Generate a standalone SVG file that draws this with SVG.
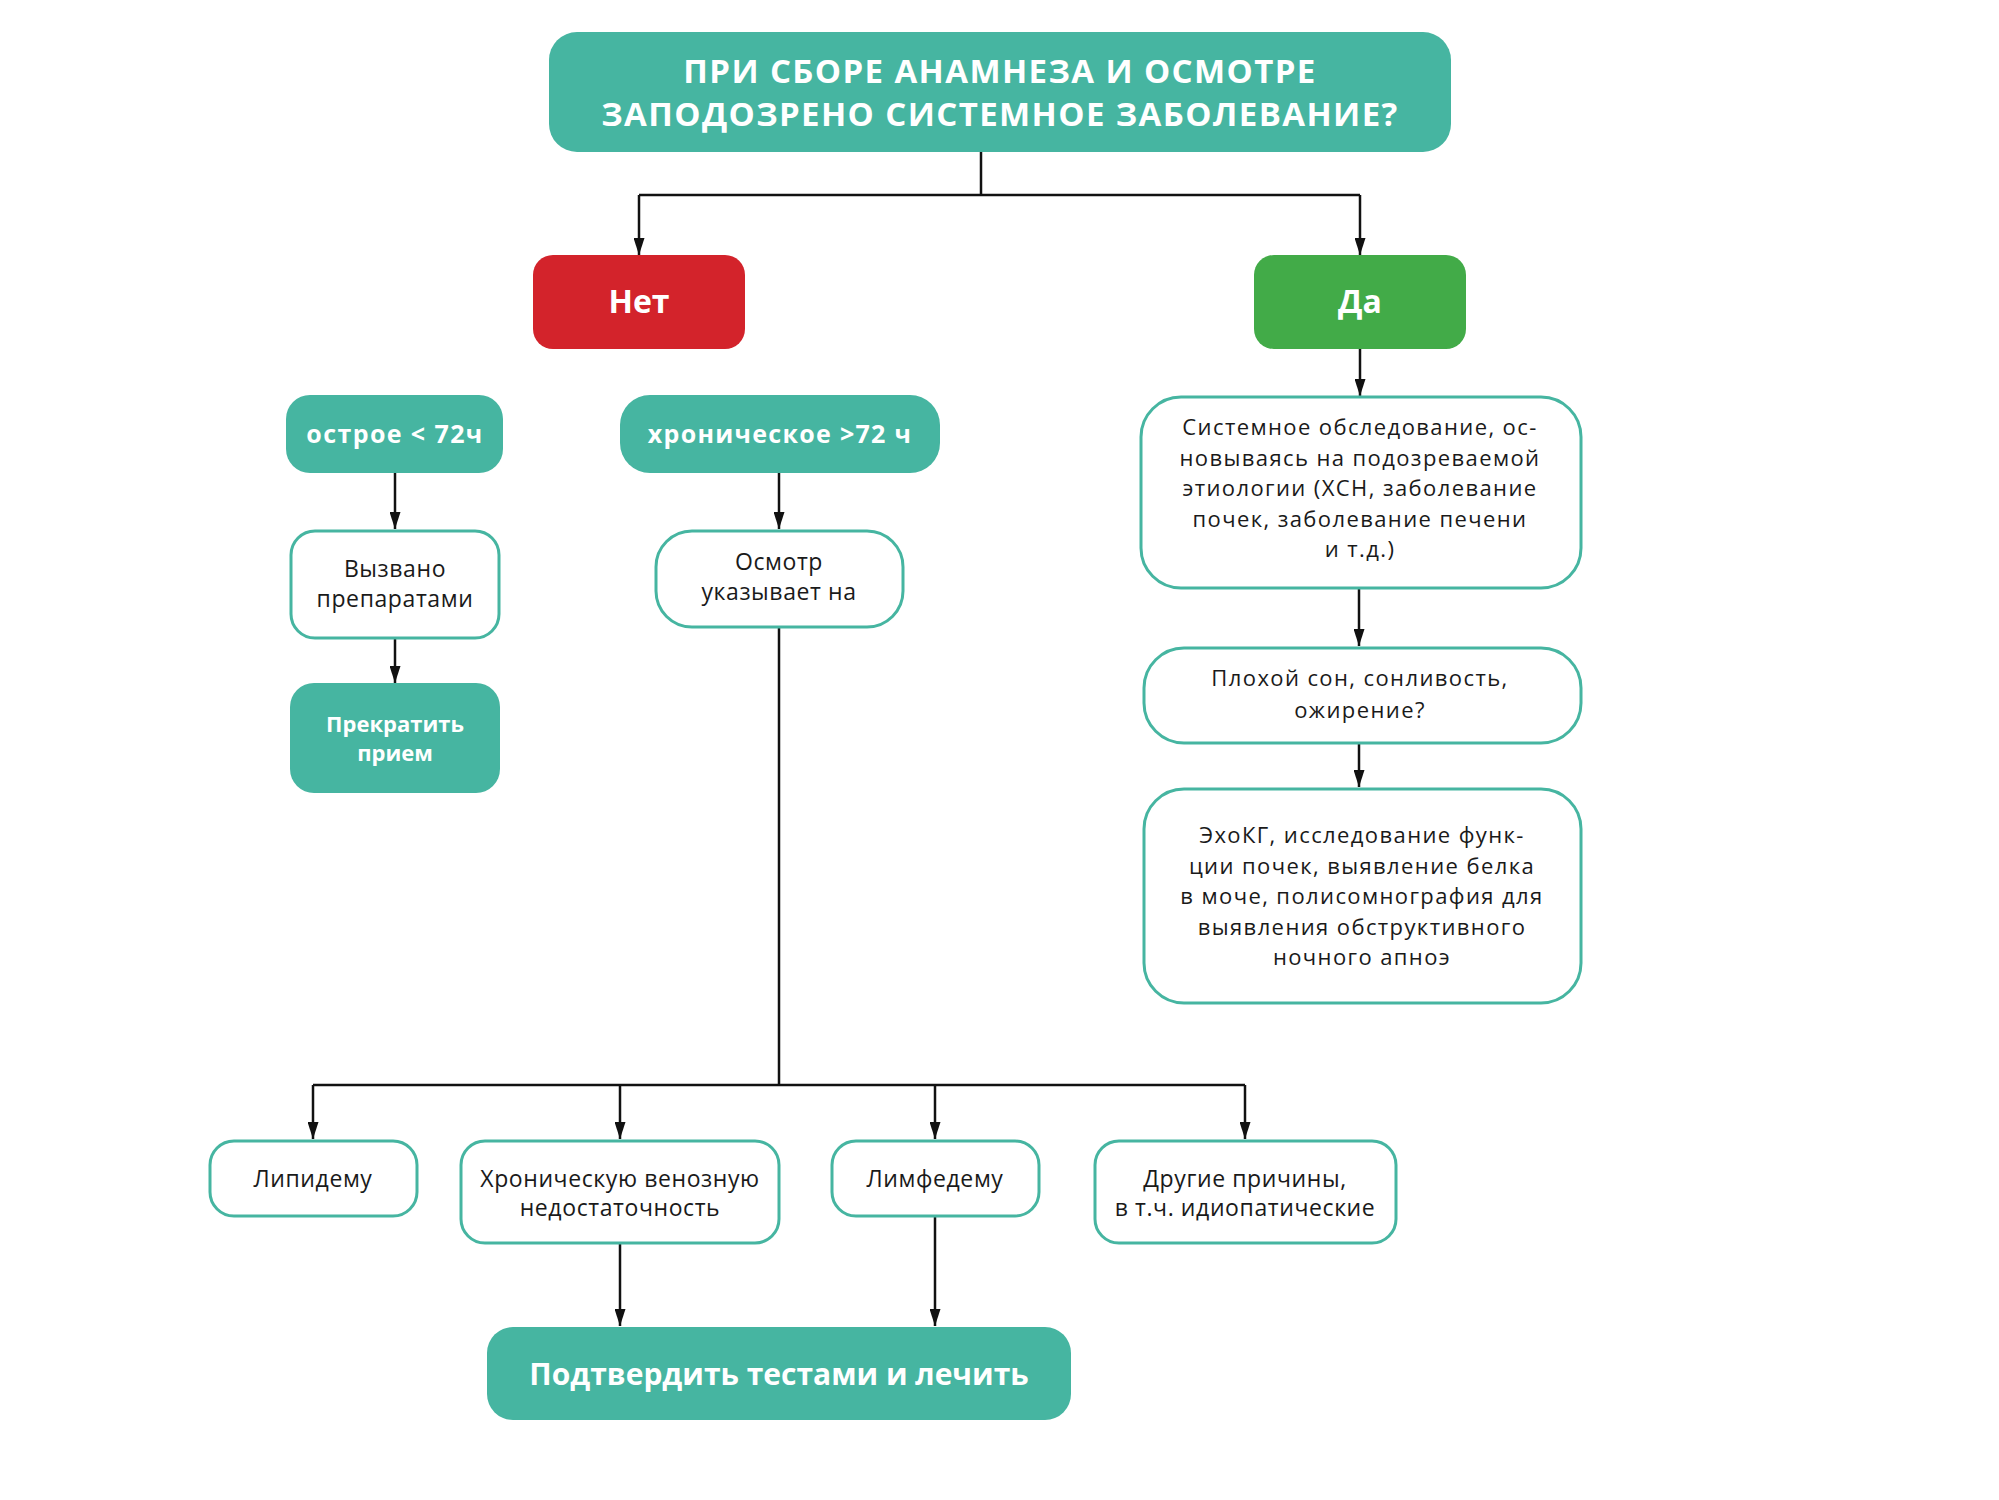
<svg xmlns="http://www.w3.org/2000/svg" width="1999" height="1500" viewBox="0 0 1999 1500">
<defs>
<marker id="arr" viewBox="0 0 17 11" refX="17" refY="5.5" markerWidth="17" markerHeight="11" markerUnits="userSpaceOnUse" orient="auto">
<path d="M0,0 L17,5.5 L0,11 Z" fill="#111"/>
</marker>
<style>
.fill{fill:#46B5A1;}
.out{fill:#fff;stroke:#46B5A1;stroke-width:3;}
.wt{font-family:"Open Sans","Liberation Sans",sans-serif;font-weight:700;fill:#fff;text-anchor:middle;}
.bt{font-family:"Open Sans","Liberation Sans",sans-serif;font-weight:400;fill:#1a1a1a;text-anchor:middle;font-size:23px;letter-spacing:0.6px;}
.rt{font-size:22px;letter-spacing:1.4px;}
.conn{fill:none;stroke:#111;stroke-width:2.5;}
</style>
</defs>
<rect width="1999" height="1500" fill="#fff"/>
<g id="connectors">
<path class="conn" d="M981,152 V195 M639,195 H1360"/>
<path class="conn" d="M639,195 V255" marker-end="url(#arr)"/>
<path class="conn" d="M1360,195 V255" marker-end="url(#arr)"/>
<path class="conn" d="M1360,349 V396" marker-end="url(#arr)"/>
<path class="conn" d="M1359,588 V646" marker-end="url(#arr)"/>
<path class="conn" d="M1359,743 V787" marker-end="url(#arr)"/>
<path class="conn" d="M395,473 V529" marker-end="url(#arr)"/>
<path class="conn" d="M395,638 V683" marker-end="url(#arr)"/>
<path class="conn" d="M779,473 V529" marker-end="url(#arr)"/>
<path class="conn" d="M779,627 V1085 M313,1085 H1245"/>
<path class="conn" d="M313,1085 V1139" marker-end="url(#arr)"/>
<path class="conn" d="M620,1085 V1139" marker-end="url(#arr)"/>
<path class="conn" d="M935,1085 V1139" marker-end="url(#arr)"/>
<path class="conn" d="M1245,1085 V1139" marker-end="url(#arr)"/>
<path class="conn" d="M620,1243 V1326" marker-end="url(#arr)"/>
<path class="conn" d="M935,1216 V1326" marker-end="url(#arr)"/>
</g>
<g id="n-top">
<rect class="fill" x="549" y="32" width="902" height="120" rx="28"/>
<text class="wt" x="1000" y="83" font-size="33" letter-spacing="1.4">ПРИ СБОРЕ АНАМНЕЗА И ОСМОТРЕ</text>
<text class="wt" x="1000" y="126" font-size="33" letter-spacing="1.4">ЗАПОДОЗРЕНО СИСТЕМНОЕ ЗАБОЛЕВАНИЕ?</text>
</g>
<g id="n-no">
<rect x="533" y="255" width="212" height="94" rx="20" fill="#D3232B"/>
<text class="wt" x="639" y="313" font-size="32">Нет</text>
</g>
<g id="n-yes">
<rect x="1254" y="255" width="212" height="94" rx="20" fill="#42AB48"/>
<text class="wt" x="1360" y="313" font-size="32">Да</text>
</g>
<g id="n-acute">
<rect class="fill" x="286" y="395" width="217" height="78" rx="24"/>
<text class="wt" x="395" y="443" font-size="25" letter-spacing="1.4">острое &lt; 72ч</text>
</g>
<g id="n-chronic">
<rect class="fill" x="620" y="395" width="320" height="78" rx="30"/>
<text class="wt" x="780" y="443" font-size="25" letter-spacing="1.3">хроническое &gt;72 ч</text>
</g>
<g id="n-drugs">
<rect class="out" x="291" y="531" width="208" height="107" rx="24"/>
<text class="bt" x="395" y="577">Вызвано</text>
<text class="bt" x="395" y="607">препаратами</text>
</g>
<g id="n-stop">
<rect class="fill" x="290" y="683" width="210" height="110" rx="24"/>
<text class="wt" x="395" y="732" font-size="22">Прекратить</text>
<text class="wt" x="395" y="761" font-size="22">прием</text>
</g>
<g id="n-exam">
<rect class="out" x="656" y="531" width="247" height="96" rx="36"/>
<text class="bt" x="779" y="570">Осмотр</text>
<text class="bt" x="779" y="600">указывает на</text>
</g>
<g id="n-system">
<rect class="out" x="1141" y="397" width="440" height="191" rx="40"/>
<text class="bt rt" x="1360" y="435">Системное обследование, ос-</text>
<text class="bt rt" x="1360" y="466">новываясь на подозреваемой</text>
<text class="bt rt" x="1360" y="496">этиологии (ХСН, заболевание</text>
<text class="bt rt" x="1360" y="527">почек, заболевание печени</text>
<text class="bt rt" x="1360" y="557">и т.д.)</text>
</g>
<g id="n-sleep">
<rect class="out" x="1144" y="648" width="437" height="95" rx="40"/>
<text class="bt rt" x="1360" y="686">Плохой сон, сонливость,</text>
<text class="bt rt" x="1360" y="718">ожирение?</text>
</g>
<g id="n-echo">
<rect class="out" x="1144" y="789" width="437" height="214" rx="40"/>
<text class="bt rt" x="1362" y="843">ЭхоКГ, исследование функ-</text>
<text class="bt rt" x="1362" y="874">ции почек, выявление белка</text>
<text class="bt rt" x="1362" y="904">в моче, полисомнография для</text>
<text class="bt rt" x="1362" y="935">выявления обструктивного</text>
<text class="bt rt" x="1362" y="965">ночного апноэ</text>
</g>
<g id="n-lipedema">
<rect class="out" x="210" y="1141" width="207" height="75" rx="24"/>
<text class="bt" x="313" y="1187">Липидему</text>
</g>
<g id="n-cvi">
<rect class="out" x="461" y="1141" width="318" height="102" rx="24"/>
<text class="bt" x="620" y="1187">Хроническую венозную</text>
<text class="bt" x="620" y="1216">недостаточность</text>
</g>
<g id="n-lymph">
<rect class="out" x="832" y="1141" width="207" height="75" rx="24"/>
<text class="bt" x="935" y="1187">Лимфедему</text>
</g>
<g id="n-other">
<rect class="out" x="1095" y="1141" width="301" height="102" rx="24"/>
<text class="bt" x="1245" y="1187">Другие причины,</text>
<text class="bt" x="1245" y="1216">в т.ч. идиопатические</text>
</g>
<g id="n-confirm">
<rect class="fill" x="487" y="1327" width="584" height="93" rx="26"/>
<text class="wt" x="779" y="1385" font-size="30">Подтвердить тестами и лечить</text>
</g>
</svg>
